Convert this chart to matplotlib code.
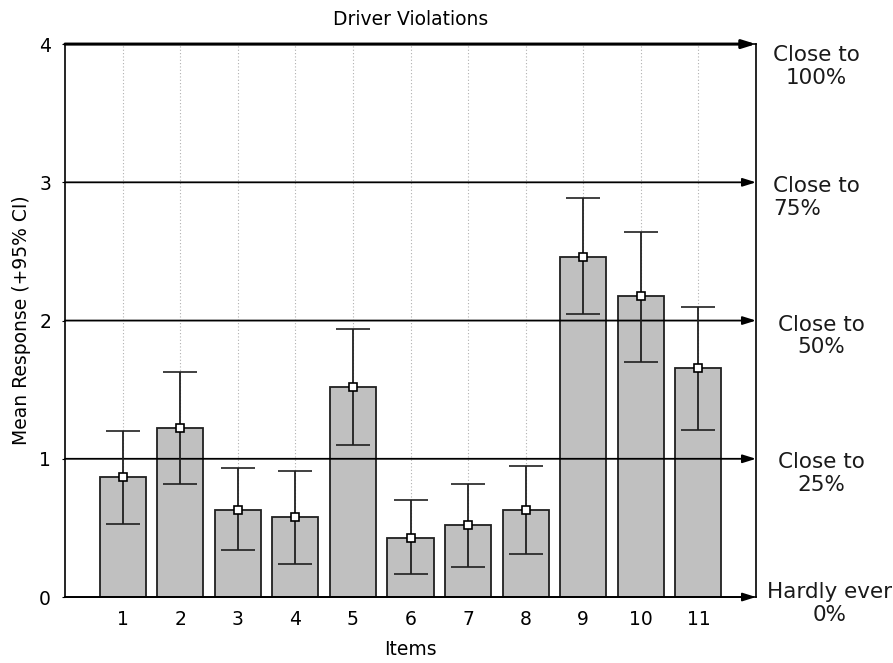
import matplotlib
matplotlib.use("Agg")
import matplotlib.pyplot as plt
import numpy as np

items = [1, 2, 3, 4, 5, 6, 7, 8, 9, 10, 11]
means = [0.87, 1.22, 0.63, 0.58, 1.52, 0.43, 0.52, 0.63, 2.46, 2.18, 1.66]
upper = [1.20, 1.63, 0.93, 0.91, 1.94, 0.70, 0.82, 0.95, 2.89, 2.64, 2.10]
lower = [0.53, 0.82, 0.34, 0.24, 1.10, 0.17, 0.22, 0.31, 2.05, 1.70, 1.21]
level_values = [0, 1, 2, 3, 4]
level_labels = ["Hardly ever\n0%", "Close to\n25%", "Close to\n50%", "Close to\n75%", "Close to\n100%"]

plt.rcParams['font.family'] = ['DejaVu Sans']

fig = plt.figure(figsize=(8.93, 6.63), dpi=100)
ax = fig.add_axes([0.0728, 0.0995, 0.7738, 0.834])

x = np.array(items)
m = np.array(means)
yerr = np.vstack([m - np.array(lower), np.array(upper) - m])

ax.set_xlim(0, 12)
ax.set_ylim(0, 4)

for xi in items:
    ax.axvline(xi, color='#b0b0b0', lw=0.8, ls=(0, (1, 2)), zorder=0)

ax.bar(x, m, width=0.8, color='#c0c0c0', edgecolor='#202020', linewidth=1.3, zorder=2)

for v in level_values:
    lw = 2.2 if v == 4 else 1.3
    ax.annotate('', xy=(12, v), xytext=(0, v), xycoords='data',
                arrowprops=dict(arrowstyle='-|>,head_length=0.8,head_width=0.25',
                                color='black', lw=lw, shrinkA=0, shrinkB=0),
                annotation_clip=False, zorder=3)

ax.errorbar(x, m, yerr=yerr, fmt='s', color='#202020', ecolor='#202020',
            elinewidth=1.3, capsize=12, capthick=1.3, markersize=6,
            markerfacecolor='white', markeredgecolor='black', markeredgewidth=1.2,
            zorder=4)

# label layout: (x in axes fraction, horizontal alignment, vertical offset in px)
label_layout = {0: (1.106, 'center', 15), 1: (1.095, 'center', 7), 2: (1.095, 'center', 6),
                3: (1.025, 'left', 6), 4: (1.087, 'center', -1)}
for v, lab in zip(level_values, level_labels):
    xt, ha, dy = label_layout[v]
    ax.annotate(lab, xy=(xt, v), xycoords=ax.get_yaxis_transform(),
                xytext=(0, dy * 0.72), textcoords='offset points',
                ha=ha, va='top', fontsize=15.5, linespacing=1.17,
                annotation_clip=False, color='#1a1a1a')

ax.set_xticks(items)
ax.set_xticklabels([str(i) for i in items])
ax.set_yticks(level_values)
ax.tick_params(axis='x', direction='in', length=4, labelsize=13.5, pad=9)
ax.tick_params(axis='y', direction='out', length=2, labelsize=13.5, pad=8)
for s in ax.spines.values():
    s.set_linewidth(1.2)

ax.set_title('Driver Violations', fontsize=13.5, pad=14)
ax.set_ylabel('Mean Response (+95% CI)', fontsize=13.5, labelpad=6)
ax.set_xlabel('Items', fontsize=13.5, labelpad=8)

fig.savefig('out.png', dpi=100)
